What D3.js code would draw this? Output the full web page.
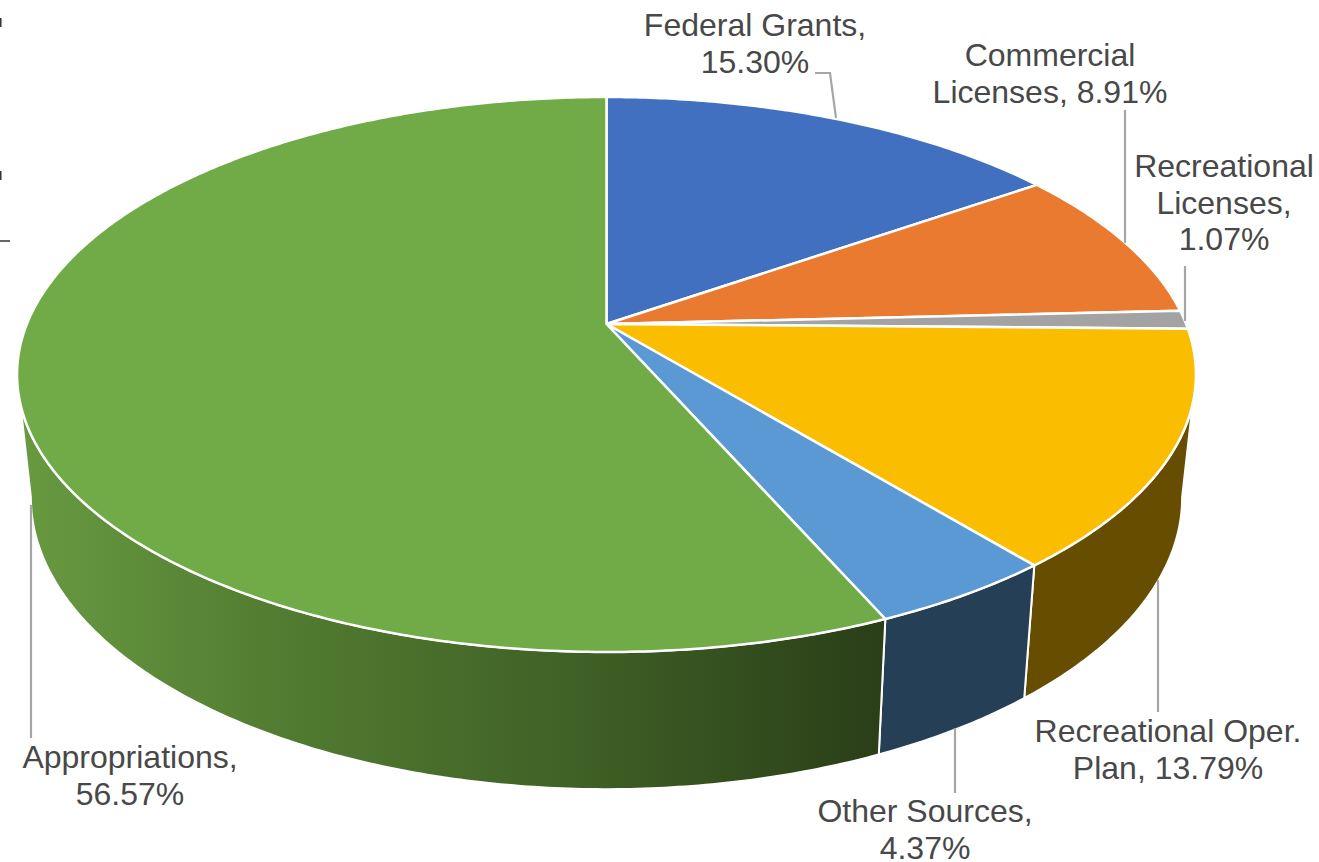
<!DOCTYPE html>
<html>
<head>
<meta charset="utf-8">
<script src="https://cdn.jsdelivr.net/npm/d3@7"></script>
<style>
  html, body { margin: 0; padding: 0; background: #fff; overflow: hidden; }
  svg { display: block; }
  text { font-family: "Liberation Sans", Arial, sans-serif; font-size: 32px; fill: #484848; }
</style>
</head>
<body>
<svg id="chart" width="1319" height="862"></svg>
<script>
// share of funding per source, clockwise from 12 o'clock
const sources = ["Federal Grants", "Commercial Licenses", "Recreational Licenses", "Recreational Oper. Plan", "Other Sources", "Appropriations"];
const shares = [15.30, 8.91, 1.07, 13.79, 4.37, 56.57];
const labelLines = [
    ["Federal Grants,", "15.30%"],
    ["Commercial", "Licenses, 8.91%"],
    ["Recreational", "Licenses,", "1.07%"],
    ["Recreational Oper.", "Plan, 13.79%"],
    ["Other Sources,", "4.37%"],
    ["Appropriations,", "56.57%"]
];
const topColors = ["#4170c0", "#ea7a30", "#a3a3a3", "#fbbd00", "#5b99d4", "#70ab48"];
const wallColors = ["#2a4272", "#8c4a1d", "#626262", "#674d00", "#243f56", "url(#greenWall)"];

// where the label block sits (centre x, first baseline) and its leader line
const labelPos = [[755, 36], [1050, 66], [1224, 177], [1168, 742], [925, 822], [130, 768]];
const leaders = [
    [[815, 73], [830, 73], [836, 118]],
    [[1125, 110], [1125, 243]],
    [[1185, 266], [1185, 321]],
    [[1158, 580], [1158, 712]],
    [[955, 728], [955, 793]],
    [[31, 505], [31, 738]]
];

const lineHeight = 36.5;
const svg = d3.select("#chart");

// perspective of the disc: apex is not at the centre of the ellipse
const cx = 606.5, persp = 0.182;
const topA = 579.6, topB = 268.3, topY = 324;
const botA = 566, botB = 282, botY = 444.4;

function project(angle, A, B, y0) {
    const u = Math.sin(angle), v = -Math.cos(angle);
    const d = 1 - persp * v;
    return [cx + A * u / d, y0 + B * v / d];
}
const topPt = a => project(a, topA, topB, topY);
const botPt = a => project(a, botA, botB, botY);

function arcAngles(a0, a1) {
    const n = Math.max(2, Math.ceil((a1 - a0) / 0.01));
    return d3.range(n + 1).map(i => a0 + (a1 - a0) * i / n);
}

const pie = d3.pie().sort(null).value(d => d);
const arcs = pie(shares);
const line = d3.line();

// green side wall fades to dark towards the front right
const grad = svg.append("defs").append("linearGradient")
    .attr("id", "greenWall")
    .attr("gradientUnits", "userSpaceOnUse")
    .attr("x1", 20).attr("x2", 885).attr("y1", 0).attr("y2", 0);
grad.append("stop").attr("offset", "0%").attr("stop-color", "#689a41");
grad.append("stop").attr("offset", "30%").attr("stop-color", "#527c31");
grad.append("stop").attr("offset", "65%").attr("stop-color", "#3f6026");
grad.append("stop").attr("offset", "100%").attr("stop-color", "#2a3e18");

// only the part of the rim facing the viewer gets a wall
const wallStart = Math.acos(-persp), wallEnd = 2 * Math.PI - wallStart;

svg.append("g").selectAll("path")
    .data(arcs.filter(d => d.endAngle > wallStart && d.startAngle < wallEnd))
    .enter().append("path")
    .attr("d", d => {
        const angles = arcAngles(Math.max(d.startAngle, wallStart), Math.min(d.endAngle, wallEnd));
        const pts = angles.map(topPt).concat(angles.slice().reverse().map(botPt));
        return line(pts) + "Z";
    })
    .attr("fill", d => wallColors[d.index])
    .attr("stroke", "#fff")
    .attr("stroke-width", 2)
    .attr("stroke-linejoin", "round");

// top of the disc
svg.append("g").selectAll("path")
    .data(arcs)
    .enter().append("path")
    .attr("d", d => {
        const pts = arcAngles(d.startAngle, d.endAngle).map(topPt);
        return line([[cx, topY]].concat(pts)) + "Z";
    })
    .attr("fill", d => topColors[d.index])
    .attr("stroke", "#fff")
    .attr("stroke-width", 2.5)
    .attr("stroke-linejoin", "round");

// leader lines
svg.append("g").selectAll("path")
    .data(leaders)
    .enter().append("path")
    .attr("d", d => line(d))
    .attr("fill", "none")
    .attr("stroke", "#a6a6a6")
    .attr("stroke-width", 2.2);

// labels
const labels = svg.append("g").selectAll("text")
    .data(sources)
    .enter().append("text")
    .attr("text-anchor", "middle")
    .attr("transform", (d, i) => `translate(${labelPos[i][0]}, ${labelPos[i][1]})`);

labels.selectAll("tspan")
    .data((d, i) => labelLines[i])
    .enter().append("tspan")
    .attr("x", 0)
    .attr("y", (d, i) => i * lineHeight)
    .text(d => d);

// bits of another chart cropped at the left edge of the picture
svg.append("g").selectAll("line")
    .data([[0, 18, 0, 27, 3], [0, 171, 0, 180, 3], [0, 241, 10, 241, 1.5]])
    .enter().append("line")
    .attr("x1", d => d[0]).attr("y1", d => d[1])
    .attr("x2", d => d[2]).attr("y2", d => d[3])
    .attr("stroke", "#333")
    .attr("stroke-width", d => d[4]);
</script>
</body>
</html>
